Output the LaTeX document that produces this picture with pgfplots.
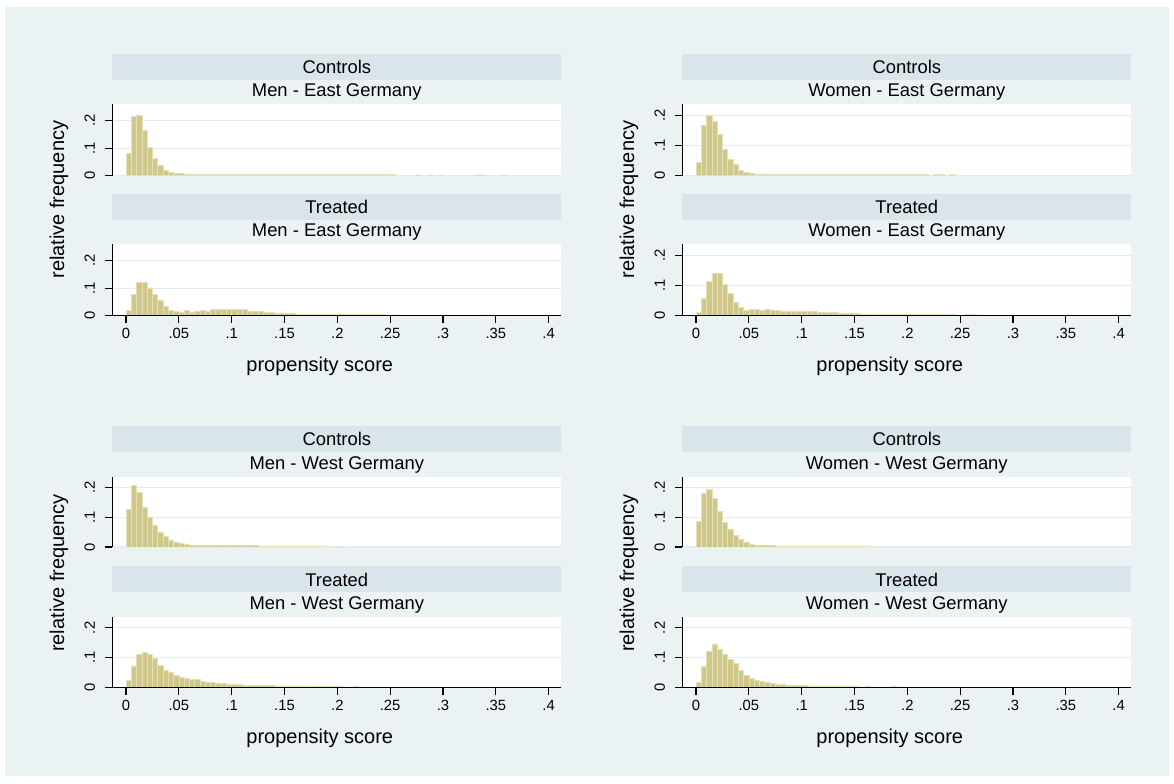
\documentclass[border=0pt]{standalone}
\usepackage{pgfplots}
\pgfplotsset{compat=1.18}
\usepackage{fontspec}
\setmainfont{Liberation Sans}
\usetikzlibrary{calc}

\definecolor{bg}{RGB}{234,242,243}
\definecolor{strip}{RGB}{217,229,235}
\definecolor{barfill}{RGB}{208,199,138}
\definecolor{barline}{RGB}{229,224,184}
\definecolor{gridc}{RGB}{228,236,239}

\newcommand{\stripfont}{\fontsize{9.2}{11}\selectfont}
\newcommand{\tickfont}{\fontsize{7.4}{8.5}\selectfont}
\newcommand{\titlefont}{\fontsize{10}{12}\selectfont}
\tikzset{xaxisline/.style={black, line width=0.55pt}}

\pgfplotsset{
  panel/.style={
    scale only axis, width=224.5pt,
    xmin=-0.013, xmax=0.412, ymin=0,
    axis y line*=left,
    axis line style={line width=0.55pt, black},
    tick style={line width=0.55pt, black},
    major tick length=3.75pt,
    tick align=outside,
    ytick={0,0.1,0.2}, yticklabels={0,.1,.2},
    yticklabel style={rotate=90, anchor=south, inner xsep=0pt, inner ysep=4.75pt,
      font=\tickfont},
    ymajorgrids, grid style={gridc, line width=0.6pt},
    axis background/.style={fill=white},
    /pgf/number format/assume math mode=true,
  },
  controls/.style={panel, axis x line=none},
  treated/.style={panel, axis x line*=bottom,
    xtick={0,0.05,0.1,0.15,0.2,0.25,0.3,0.35,0.4},
    xticklabels={0,.05,.1,.15,.2,.25,.3,.35,.4},
    xticklabel style={anchor=north, inner sep=0pt, yshift=-2.5pt,
      font=\tickfont},
    xlabel={propensity score},
    xlabel style={font=\titlefont,
      at={(axis description cs:0.4621,0)}, anchor=center, yshift=-25.4pt},
    ylabel={relative frequency},
    ylabel style={font=\titlefont,
      at={(axis description cs:-0.1187,1.625)}, anchor=center},
  },
  bars/.style={ybar, bar width=0.005, bar shift=0pt,
    fill=barfill, draw=barline, line width=0.35pt},
}

\begin{document}
\begin{tikzpicture}
\fill[white] (0,0) rectangle (587pt,391.5pt);
\fill[bg] (2.5pt,3.5pt) rectangle (584.5pt,388pt);

% ---------- Men - East Germany ----------
\begin{axis}[controls, name=mec, at={(56.15pt,303.65pt)}, anchor=south west,
  height=35.7pt, ymax=0.26]
\addplot[bars] coordinates {
 (.0025,.081) (.0075,.217) (.0125,.221) (.0175,.165) (.0225,.102) (.0275,.063)
 (.0325,.036) (.0375,.021) (.0425,.013) (.0475,.009) (.0525,.007) (.0575,.006)
 (.0625,.006) (.0675,.006) (.0725,.006) (.0775,.006) (.0825,.006) (.0875,.006)
 (.0925,.006) (.0975,.006) (.1025,.006) (.1075,.006) (.1125,.006) (.1175,.0035)
 (.1225,.0035) (.1275,.0035) (.1325,.0035) (.1375,.0035) (.1425,.0035) (.1475,.0035)
 (.1525,.0035) (.1575,.0035) (.1625,.0035) (.1675,.0035) (.1725,.0035) (.1775,.0035)
 (.1825,.0035) (.1875,.0035) (.1925,.0035) (.1975,.0035) (.2025,.0035) (.2075,.0035)
 (.2125,.0035) (.2175,.0035) (.2225,.0035) (.2275,.0035) (.2325,.0035) (.2375,.0035)
 (.2425,.0035) (.2475,.0035) (.2525,.0035)
 (.2775,.003) (.2875,.003) (.2975,.003) (.3325,.003) (.3375,.003) (.3575,.003)
};
\end{axis}

\begin{axis}[treated, name=met, at={(56.15pt,233.65pt)}, anchor=south west,
  height=35.7pt, ymax=0.26]
\addplot[bars] coordinates {
 (.0025,.019) (.0075,.077) (.0125,.120) (.0175,.120) (.0225,.101) (.0275,.077)
 (.0325,.055) (.0375,.033) (.0425,.018) (.0475,.016) (.0525,.013) (.0575,.019)
 (.0625,.013) (.0675,.017) (.0725,.019) (.0775,.016) (.0825,.022) (.0875,.022)
 (.0925,.023) (.0975,.022) (.1025,.022) (.1075,.023) (.1125,.023) (.1175,.017)
 (.1225,.017) (.1275,.017) (.1325,.013) (.1375,.012) (.1425,.010) (.1475,.010)
 (.1525,.008) (.1575,.007) (.1625,.006) (.1675,.006) (.1725,.005) (.1775,.005)
 (.1825,.005) (.1875,.005) (.1925,.005) (.1975,.005) (.2025,.005) (.2075,.005)
 (.2125,.005) (.2175,.005) (.2225,.004) (.2275,.004) (.2325,.004) (.2375,.004)
 (.2425,.004)
 (.2575,.003) (.3025,.003) (.3425,.003)
};
\draw[xaxisline] (rel axis cs:0,0) -- (rel axis cs:1,0);
\end{axis}

% ---------- Women - East Germany ----------
\begin{axis}[controls, name=wec, at={(341.15pt,303.65pt)}, anchor=south west,
  height=35.7pt, ymax=0.237]
\addplot[bars] coordinates {
 (.0025,.044) (.0075,.168) (.0125,.201) (.0175,.179) (.0225,.137) (.0275,.088)
 (.0325,.053) (.0375,.037) (.0425,.017) (.0475,.011) (.0525,.007) (.0575,.006)
 (.0625,.006) (.0675,.004) (.0725,.004) (.0775,.004) (.0825,.004) (.0875,.004)
 (.0925,.004) (.0975,.004) (.1025,.003) (.1075,.003) (.1125,.003) (.1175,.003)
 (.1225,.003) (.1275,.003) (.1325,.003) (.1375,.003) (.1425,.003) (.1475,.003)
 (.1525,.003) (.1575,.003) (.1625,.003) (.1675,.003) (.1725,.003) (.1775,.003)
 (.1825,.003) (.1875,.003) (.1925,.003) (.1975,.003) (.2025,.003) (.2075,.003)
 (.2125,.003) (.2175,.003)
 (.2275,.003) (.2325,.003) (.2425,.003)
};
\end{axis}

\begin{axis}[treated, name=wet, at={(341.15pt,233.65pt)}, anchor=south west,
  height=35.7pt, ymax=0.237]
\addplot[bars] coordinates {
 (.0025,.011) (.0075,.057) (.0125,.114) (.0175,.141) (.0225,.141) (.0275,.104)
 (.0325,.074) (.0375,.044) (.0425,.027) (.0475,.018) (.0525,.021) (.0575,.021)
 (.0625,.019) (.0675,.021) (.0725,.019) (.0775,.018) (.0825,.016) (.0875,.016)
 (.0925,.016) (.0975,.016) (.1025,.016) (.1075,.014) (.1125,.016) (.1175,.012)
 (.1225,.010) (.1275,.010) (.1325,.010) (.1375,.008) (.1425,.008) (.1475,.008)
 (.1525,.008) (.1575,.006) (.1625,.005) (.1675,.006) (.1725,.004) (.1775,.004)
 (.1825,.004) (.1875,.004) (.1925,.004) (.1975,.004) (.2025,.004) (.2075,.004)
 (.2125,.004) (.2175,.004) (.2225,.004) (.2275,.004) (.2325,.004) (.2375,.004)
 (.2425,.004)
 (.2575,.003) (.2625,.003)
};
\draw[xaxisline] (rel axis cs:0,0) -- (rel axis cs:1,0);
\end{axis}

% ---------- Men - West Germany ----------
\begin{axis}[controls, name=mwc, at={(56.15pt,118pt)}, anchor=south west,
  height=35.2pt, ymax=0.237]
\addplot[bars] coordinates {
 (.0025,.126) (.0075,.206) (.0125,.184) (.0175,.135) (.0225,.099) (.0275,.072)
 (.0325,.050) (.0375,.035) (.0425,.024) (.0475,.017) (.0525,.0125) (.0575,.009)
 (.0625,.007) (.0675,.006) (.0725,.006) (.0775,.006) (.0825,.0045) (.0875,.0045)
 (.0925,.0045) (.0975,.0045) (.1025,.0045) (.1075,.0045) (.1125,.0045) (.1175,.0045)
 (.1225,.0045) (.1275,.0035) (.1325,.0035) (.1375,.0035) (.1425,.0035) (.1475,.0035)
 (.1525,.0035) (.1575,.0035) (.1625,.0035) (.1675,.0035) (.1725,.0035) (.1775,.0035)
 (.1825,.0035) (.1875,.0035)
 (.2025,.003)
};
\end{axis}

\begin{axis}[treated, name=mwt, at={(56.15pt,47.85pt)}, anchor=south west,
  height=35.2pt, ymax=0.237]
\addplot[bars] coordinates {
 (.0025,.022) (.0075,.072) (.0125,.112) (.0175,.116) (.0225,.110) (.0275,.097)
 (.0325,.075) (.0375,.058) (.0425,.049) (.0475,.040) (.0525,.034) (.0575,.029)
 (.0625,.028) (.0675,.027) (.0725,.019) (.0775,.017) (.0825,.016) (.0875,.0145)
 (.0925,.013) (.0975,.011) (.1025,.010) (.1075,.010) (.1125,.008) (.1175,.007)
 (.1225,.006) (.1275,.006) (.1325,.006) (.1375,.006) (.1425,.0045) (.1475,.0045)
 (.1525,.0045) (.1575,.0045) (.1625,.0045) (.1675,.0045) (.1725,.0035) (.1775,.0035)
 (.1825,.0035) (.1875,.0035) (.1925,.0035) (.1975,.0035) (.2025,.0035)
 (.2175,.003)
};
\draw[xaxisline] (rel axis cs:0,0) -- (rel axis cs:1,0);
\end{axis}

% ---------- Women - West Germany ----------
\begin{axis}[controls, name=wwc, at={(341.15pt,118pt)}, anchor=south west,
  height=35.2pt, ymax=0.237]
\addplot[bars] coordinates {
 (.0025,.087) (.0075,.182) (.0125,.194) (.0175,.163) (.0225,.121) (.0275,.083)
 (.0325,.060) (.0375,.040) (.0425,.026) (.0475,.017) (.0525,.010) (.0575,.007)
 (.0625,.0045) (.0675,.0045) (.0725,.0045) (.0775,.0035) (.0825,.0035) (.0875,.0035)
 (.0925,.0035) (.0975,.0035) (.1025,.0035) (.1075,.0035) (.1125,.0035) (.1175,.0035)
 (.1225,.0035) (.1275,.0035) (.1325,.0035) (.1375,.0035) (.1425,.0035) (.1475,.0035)
 (.1525,.0035) (.1575,.0035) (.1625,.0035)
};
\end{axis}

\begin{axis}[treated, name=wwt, at={(341.15pt,47.85pt)}, anchor=south west,
  height=35.2pt, ymax=0.237]
\addplot[bars] coordinates {
 (.0025,.015) (.0075,.070) (.0125,.122) (.0175,.146) (.0225,.129) (.0275,.111)
 (.0325,.093) (.0375,.079) (.0425,.057) (.0475,.040) (.0525,.030) (.0575,.022)
 (.0625,.021) (.0675,.018) (.0725,.013) (.0775,.010) (.0825,.009) (.0875,.008)
 (.0925,.0055) (.0975,.0055) (.1025,.0055) (.1075,.0045) (.1125,.0045) (.1175,.0045)
 (.1225,.0045) (.1275,.0045) (.1325,.0045) (.1375,.0045) (.1425,.0045) (.1475,.0045)
 (.1525,.0045)
 (.1625,.003) (.1875,.003)
};
\draw[xaxisline] (rel axis cs:0,0) -- (rel axis cs:1,0);
\end{axis}

% strips with group titles
\foreach \ax/\top/\sub in {mec/Controls/Men - East Germany,
                           met/Treated/Men - East Germany,
                           wec/Controls/Women - East Germany,
                           wet/Treated/Women - East Germany,
                           mwc/Controls/Men - West Germany,
                           mwt/Treated/Men - West Germany,
                           wwc/Controls/Women - West Germany,
                           wwt/Treated/Women - West Germany} {
  \fill[strip] ($(\ax.north west)+(0,12.2pt)$) rectangle ($(\ax.north east)+(0,25.25pt)$);
  \node[font=\stripfont, inner sep=0pt] at ($(\ax.north)+(0,18.7pt)$) {\top};
  \node[font=\stripfont, inner sep=0pt] at ($(\ax.north)+(0,6pt)$) {\sub};
}
\end{tikzpicture}
\end{document}
